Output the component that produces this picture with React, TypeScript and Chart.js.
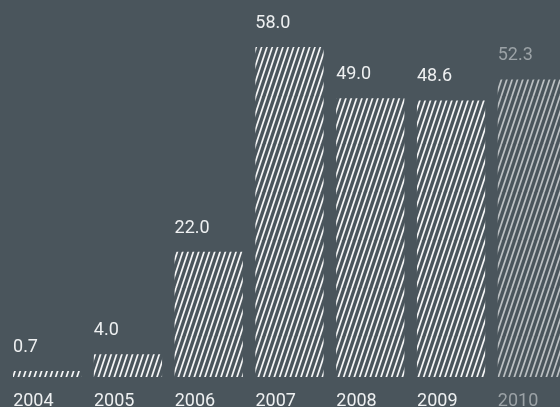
import React, { useEffect, useRef } from "react";
import { Chart, registerables } from "chart.js";

Chart.register(...registerables);

const years = ["2004", "2005", "2006", "2007", "2008", "2009", "2010"];
const values = [0.7, 4.0, 22.0, 58.0, 49.0, 48.6, 52.3];
const valueLabels = ["0.7", "4.0", "22.0", "58.0", "49.0", "48.6", "52.3"];
const dimmed = [false, false, false, false, false, false, true];

const BG = "#4a555c";
const TEXT = "#eef0f1";
const DIM_TEXT = "#9ba2a6";
const FONT = "Roboto, 'Liberation Sans', sans-serif";

function makePattern(color: string): CanvasPattern | string {
  const c = document.createElement("canvas");
  const w = 16;
  const h = 48;
  c.width = w;
  c.height = h;
  const ctx = c.getContext("2d");
  if (!ctx) return color;
  ctx.strokeStyle = color;
  ctx.lineWidth = 1.7;
  const step = w / 3;
  for (let k = -6; k <= 6; k++) {
    const x0 = k * step;
    ctx.beginPath();
    ctx.moveTo(x0, h);
    ctx.lineTo(x0 + w, 0);
    ctx.stroke();
  }
  const p = ctx.createPattern(c, "repeat");
  return p || color;
}

const valueLabelPlugin = {
  id: "valueLabels",
  afterDatasetsDraw(chart: any) {
    const ctx = chart.ctx;
    const meta = chart.getDatasetMeta(0);
    ctx.save();
    ctx.font = `18px ${FONT}`;
    ctx.textAlign = "left";
    ctx.textBaseline = "alphabetic";
    meta.data.forEach((bar: any, i: number) => {
      const left = bar.x - bar.width / 2;
      ctx.fillStyle = dimmed[i] ? DIM_TEXT : TEXT;
      ctx.fillText(valueLabels[i], left, bar.y - 19);
    });
    ctx.restore();
  },
};

export default function App() {
  const ref = useRef<HTMLCanvasElement | null>(null);

  useEffect(() => {
    document.body.style.margin = "0";
    const canvas = ref.current;
    if (!canvas) return;
    const bright = makePattern("rgba(255,255,255,0.95)");
    const dim = makePattern("rgba(225,228,230,0.75)");
    const chart = new Chart(canvas, {
      type: "bar",
      data: {
        labels: years,
        datasets: [
          {
            data: values,
            backgroundColor: values.map((_, i) => (dimmed[i] ? dim : bright)) as any,
            borderWidth: 0,
            categoryPercentage: 1,
            barPercentage: 0.845,
            minBarLength: 6,
          },
        ],
      },
      options: {
        responsive: false,
        animation: false,
        devicePixelRatio: 1,
        layout: { padding: { left: 6.75, right: 9.75, top: 1.5, bottom: 3.4 } },
        plugins: {
          legend: { display: false },
          tooltip: { enabled: false },
        },
        scales: {
          x: {
            grid: { display: false, drawTicks: false },
            border: { display: false },
            ticks: {
              align: "start",
              labelOffset: -34,
              padding: 14,
              font: { family: FONT, size: 18 },
              color: (ctx: any) => (dimmed[ctx.index] ? DIM_TEXT : TEXT),
              maxRotation: 0,
              autoSkip: false,
            },
          },
          y: {
            display: false,
            min: 0,
            max: 66,
          },
        },
      },
      plugins: [valueLabelPlugin],
    });
    return () => chart.destroy();
  }, []);

  return (
    <div
      style={{
        position: "fixed",
        left: 0,
        top: 0,
        width: 560,
        height: 407,
        overflow: "hidden",
        background: BG,
      }}
    >
      <canvas ref={ref} width={587} height={430} style={{ display: "block" }} />
    </div>
  );
}
